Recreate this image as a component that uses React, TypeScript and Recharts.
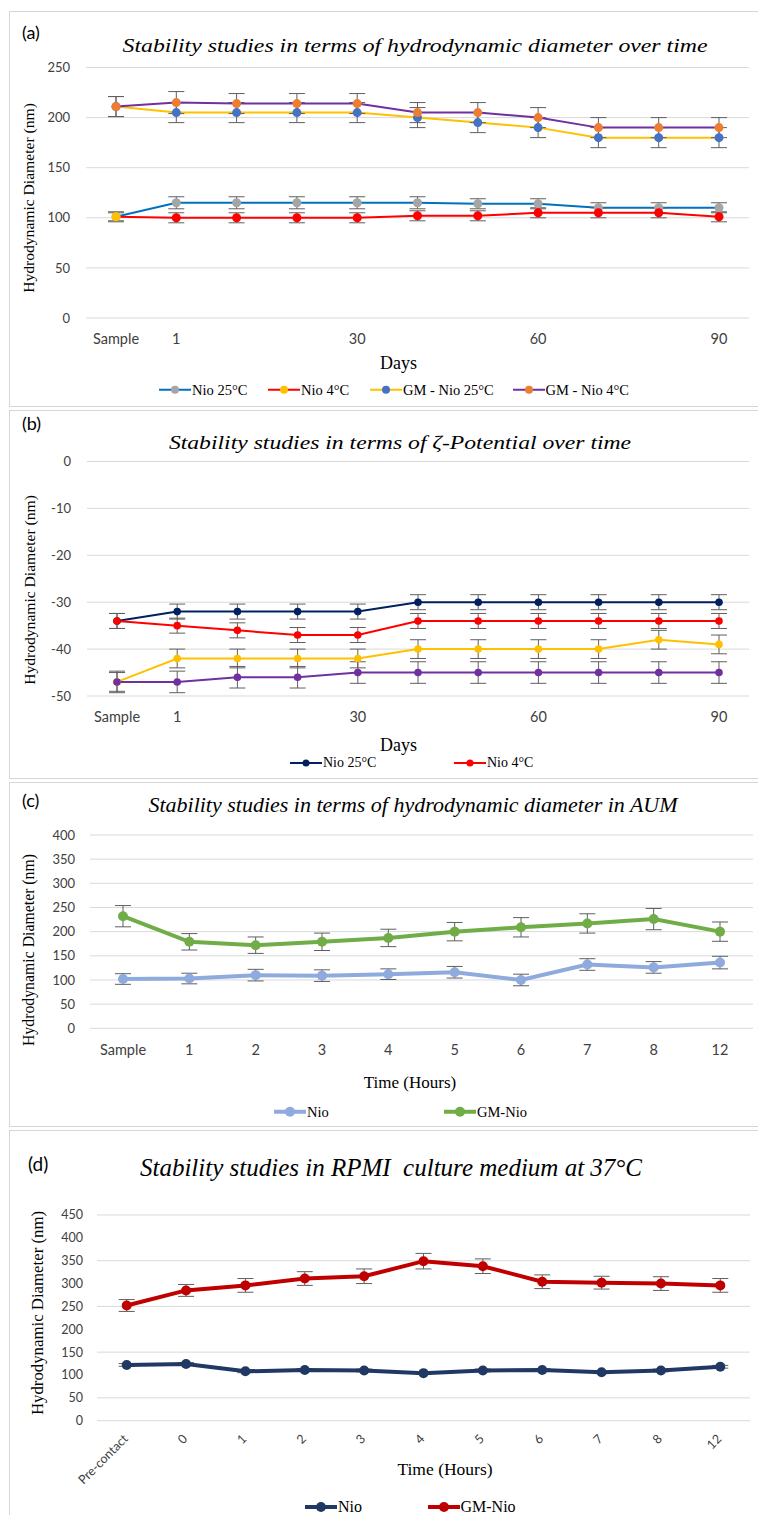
import React from 'react';
import { LineChart, Line, XAxis, YAxis, CartesianGrid, ErrorBar } from 'recharts';

// ---------- Data ----------
const daysLabels = ['Sample', '1', '', '', '30', '', '', '60', '', '', '90'];

const aNio25 = [101, 115, 115, 115, 115, 115, 114, 114, 110, 110, 110];
const aNio4 = [101, 100, 100, 100, 100, 102, 102, 105, 105, 105, 101];
const aGm25 = [211, 205, 205, 205, 205, 200, 195, 190, 180, 180, 180];
const aGm4 = [211, 215, 214, 214, 214, 205, 205, 200, 190, 190, 190];
const aErrNio25 = [5, 6, 6, 6, 6, 6, 5, 5, 5, 5, 5];
const aErrNio4 = [4, 5, 5, 5, 5, 5, 5, 5, 5, 5, 5];
const aErrGm25 = [10, 10, 10, 10, 10, 10, 10, 10, 10, 10, 10];
const aErrGm4 = [10, 11, 10, 10, 10, 10, 10, 10, 10, 10, 10];

const bNio25 = [-34, -32, -32, -32, -32, -30, -30, -30, -30, -30, -30];
const bNio4 = [-34, -35, -36, -37, -37, -34, -34, -34, -34, -34, -34];
const bGm25 = [-47, -42, -42, -42, -42, -40, -40, -40, -40, -38, -39];
const bGm4 = [-47, -47, -46, -46, -45, -45, -45, -45, -45, -45, -45];
const bErrNio25 = [1.6, 1.6, 1.6, 1.6, 1.6, 1.6, 1.6, 1.6, 1.6, 1.6, 1.6];
const bErrNio4 = [1.6, 1.6, 1.6, 1.6, 1.6, 1.6, 1.6, 1.6, 1.6, 1.6, 1.6];
const bErrGm25 = [2, 2, 2, 2, 2, 2, 2, 2, 2, 2, 2];
const bErrGm4 = [2.3, 2.3, 2.3, 2.3, 2.3, 2.3, 2.3, 2.3, 2.3, 2.3, 2.3];

const cLabels = ['Sample', '1', '2', '3', '4', '5', '6', '7', '8', '12'];
const cNio = [102, 103, 110, 109, 112, 116, 100, 132, 126, 136];
const cGm = [232, 179, 172, 179, 187, 200, 209, 217, 226, 200];
const cErrNio = [11, 11, 12, 12, 11, 12, 12, 12, 12, 13];
const cErrGm = [22, 17, 17, 18, 18, 19, 20, 20, 22, 20];

const dLabels = ['Pre-contact', '0', '1', '2', '3', '4', '5', '6', '7', '8', '12'];
const dNio = [122, 124, 108, 111, 110, 104, 110, 111, 106, 110, 118];
const dGm = [252, 285, 296, 311, 316, 349, 338, 304, 302, 300, 296];
const dErrNio = [3, 3, 3, 3, 3, 3, 3, 3, 3, 3, 3];
const dErrGm = [13, 13, 15, 15, 16, 17, 16, 15, 14, 15, 15];

const aTicks = [0, 50, 100, 150, 200, 250];
const bTicks = [-50, -40, -30, -20, -10, 0];
const cTicks = [0, 50, 100, 150, 200, 250, 300, 350, 400];
const dTicks = [0, 50, 100, 150, 200, 250, 300, 350, 400, 450];

// ---------- Rows ----------
const aRows = daysLabels.map((l, i) => ({
  idx: i, n25: aNio25[i], n4: aNio4[i], g25: aGm25[i], g4: aGm4[i],
  en25: aErrNio25[i], en4: aErrNio4[i], eg25: aErrGm25[i], eg4: aErrGm4[i],
}));
const bRows = daysLabels.map((l, i) => ({
  idx: i, n25: bNio25[i], n4: bNio4[i], g25: bGm25[i], g4: bGm4[i],
  en25: bErrNio25[i], en4: bErrNio4[i], eg25: bErrGm25[i], eg4: bErrGm4[i],
}));
const cRows = cLabels.map((l, i) => ({ idx: i, nio: cNio[i], gm: cGm[i], en: cErrNio[i], eg: cErrGm[i] }));
const dRows = dLabels.map((l, i) => ({ idx: i, nio: dNio[i], gm: dGm[i], en: dErrNio[i], eg: dErrGm[i] }));

// ---------- Styles ----------
const SANS = 'Lato, "Open Sans", "DejaVu Sans", sans-serif';
const SERIF = '"Liberation Serif", "Times New Roman", serif';
const GRID = '#D9D9D9';
const ERR = '#5F5F5F';
const TICK_FILL = '#404040';

const Txt = ({ x, y, size, children, italic, family, rotate, anchor, sx }: any) => (
  <div
    style={{
      position: 'absolute', left: x, top: y, fontSize: size, fontFamily: family || SERIF,
      fontStyle: italic ? 'italic' : 'normal', whiteSpace: 'pre', lineHeight: 1, color: '#000',
      transform: `translate(${anchor === 'start' ? '0' : '-50%'}, -50%)${rotate ? ` rotate(${rotate}deg)` : ''}${sx ? ` scaleX(${sx})` : ''}`,
    }}
  >
    {children}
  </div>
);

const Box = ({ top, height }: any) => (
  <div style={{ position: 'absolute', left: 9, top, width: 760, height, border: '1px solid #D6D6D6', boxSizing: 'border-box' }} />
);

const LegendItem = ({ x, y, line, marker, label, size, lw, r }: any) => (
  <div style={{ position: 'absolute', left: x, top: y, transform: 'translateY(-50%)', display: 'flex', alignItems: 'center', whiteSpace: 'nowrap' }}>
    <svg width={32} height={12} style={{ display: 'block' }}>
      <line x1={0} y1={6} x2={32} y2={6} stroke={line} strokeWidth={lw} />
      <circle cx={16} cy={6} r={r} fill={marker} />
    </svg>
    <span style={{ fontFamily: SERIF, fontSize: size, marginLeft: 1, lineHeight: 1 }}>{label}</span>
  </div>
);

const yTick = { fontSize: 13, fill: TICK_FILL, fontFamily: SANS };
const xTick = { fontSize: 14.5, fill: TICK_FILL, fontFamily: SANS };

const nio4Dot = (p: any) => (
  <circle key={`n4-${p.index}`} cx={p.cx} cy={p.cy} r={4.5} fill={p.index === 0 ? '#FFC000' : '#FF0000'} />
);

const RotTick = (p: any) => {
  const { x, y, payload } = p;
  return (
    <text
      transform={`translate(${x + 2},${y + 19}) rotate(-45)`}
      textAnchor="end"
      fontSize={12.5}
      fontFamily={SANS}
      fill={TICK_FILL}
    >
      {dLabels[payload.value]}
    </text>
  );
};

const PanelA = () => (
  <div style={{ position: 'absolute', left: 0, top: 0 }}>
    <LineChart width={758} height={405} data={aRows} margin={{ top: 67.5, right: 9, left: 36, bottom: 47 }}>
      <CartesianGrid vertical={false} stroke={GRID} strokeWidth={1} />
      <XAxis dataKey="idx" type="category" height={40} axisLine={false} tickLine={false} tickSize={0} tickMargin={16}
        tick={xTick} interval={0} padding={{ left: 30, right: 30 }} tickFormatter={(v: any) => daysLabels[v]} />
      <YAxis width={50} domain={[0, 250]} ticks={aTicks} axisLine={false} tickLine={false} tickSize={0} tickMargin={16} tick={yTick} />
      <Line dataKey="n25" stroke="#0070C0" strokeWidth={2} dot={{ r: 4.5, fill: '#A5A5A5', stroke: 'none' }} activeDot={false} isAnimationActive={false}>
        <ErrorBar dataKey="en25" width={8} stroke={ERR} strokeWidth={1} direction="y" />
      </Line>
      <Line dataKey="n4" stroke="#FF0000" strokeWidth={2} dot={nio4Dot} activeDot={false} isAnimationActive={false}>
        <ErrorBar dataKey="en4" width={8} stroke={ERR} strokeWidth={1} direction="y" />
      </Line>
      <Line dataKey="g25" stroke="#FFC000" strokeWidth={2} dot={{ r: 4.5, fill: '#4472C4', stroke: 'none' }} activeDot={false} isAnimationActive={false}>
        <ErrorBar dataKey="eg25" width={8} stroke={ERR} strokeWidth={1} direction="y" />
      </Line>
      <Line dataKey="g4" stroke="#7030A0" strokeWidth={2} dot={{ r: 4.5, fill: '#ED7D31', stroke: 'none' }} activeDot={false} isAnimationActive={false}>
        <ErrorBar dataKey="eg4" width={8} stroke={ERR} strokeWidth={1} direction="y" />
      </Line>
    </LineChart>
  </div>
);

const PanelB = () => (
  <div style={{ position: 'absolute', left: 0, top: 409 }}>
    <LineChart width={758} height={369} data={bRows} margin={{ top: 52.5, right: 9, left: 37, bottom: 42 }}>
      <CartesianGrid vertical={false} stroke={GRID} strokeWidth={1} />
      <XAxis dataKey="idx" type="category" height={40} axisLine={false} tickLine={false} tickSize={0} tickMargin={16}
        tick={xTick} interval={0} padding={{ left: 30, right: 30 }} tickFormatter={(v: any) => daysLabels[v]} />
      <YAxis width={50} domain={[-50, 0]} ticks={bTicks} axisLine={false} tickLine={false} tickSize={0} tickMargin={16} tick={yTick} />
      <Line dataKey="n25" stroke="#002060" strokeWidth={2} dot={{ r: 3.8, fill: '#002060', stroke: 'none' }} activeDot={false} isAnimationActive={false}>
        <ErrorBar dataKey="en25" width={8} stroke={ERR} strokeWidth={1} direction="y" />
      </Line>
      <Line dataKey="n4" stroke="#FF0000" strokeWidth={2} dot={{ r: 3.8, fill: '#FF0000', stroke: 'none' }} activeDot={false} isAnimationActive={false}>
        <ErrorBar dataKey="en4" width={8} stroke={ERR} strokeWidth={1} direction="y" />
      </Line>
      <Line dataKey="g25" stroke="#FFC000" strokeWidth={2} dot={{ r: 3.8, fill: '#FFC000', stroke: 'none' }} activeDot={false} isAnimationActive={false}>
        <ErrorBar dataKey="eg25" width={8} stroke={ERR} strokeWidth={1} direction="y" />
      </Line>
      <Line dataKey="g4" stroke="#7030A0" strokeWidth={2} dot={{ r: 3.8, fill: '#7030A0', stroke: 'none' }} activeDot={false} isAnimationActive={false}>
        <ErrorBar dataKey="eg4" width={8} stroke={ERR} strokeWidth={1} direction="y" />
      </Line>
    </LineChart>
  </div>
);

const PanelC = () => (
  <div style={{ position: 'absolute', left: 0, top: 781 }}>
    <LineChart width={758} height={345} data={cRows} margin={{ top: 54, right: 5, left: 40, bottom: 57.7 }}>
      <CartesianGrid vertical={false} stroke={GRID} strokeWidth={1} />
      <XAxis dataKey="idx" type="category" height={40} axisLine={false} tickLine={false} tickSize={0} tickMargin={16}
        tick={xTick} interval={0} padding={{ left: 33, right: 33 }} tickFormatter={(v: any) => cLabels[v]} />
      <YAxis width={50} domain={[0, 400]} ticks={cTicks} axisLine={false} tickLine={false} tickSize={0} tickMargin={15} tick={yTick} />
      <Line dataKey="nio" stroke="#8FAADC" strokeWidth={4} dot={{ r: 5, fill: '#8FAADC', stroke: 'none' }} activeDot={false} isAnimationActive={false}>
        <ErrorBar dataKey="en" width={8} stroke={ERR} strokeWidth={1} direction="y" />
      </Line>
      <Line dataKey="gm" stroke="#70AD47" strokeWidth={4} dot={{ r: 5, fill: '#70AD47', stroke: 'none' }} activeDot={false} isAnimationActive={false}>
        <ErrorBar dataKey="eg" width={8} stroke={ERR} strokeWidth={1} direction="y" />
      </Line>
    </LineChart>
  </div>
);

const PanelD = () => (
  <div style={{ position: 'absolute', left: 0, top: 1129 }}>
    <LineChart width={758} height={386} data={dRows} margin={{ top: 86, right: 8, left: 47, bottom: 54.3 }}>
      <CartesianGrid vertical={false} stroke={GRID} strokeWidth={1} />
      <XAxis dataKey="idx" type="category" height={40} axisLine={false} tickLine={false} tickSize={0} tickMargin={0}
        tick={<RotTick />} interval={0} padding={{ left: 29.7, right: 29.7 }} />
      <YAxis width={50} domain={[0, 450]} ticks={dTicks} axisLine={false} tickLine={false} tickSize={0} tickMargin={14}
        tick={{ fontSize: 12.5, fill: TICK_FILL, fontFamily: SANS }} />
      <Line dataKey="nio" stroke="#203864" strokeWidth={4} dot={{ r: 5, fill: '#203864', stroke: 'none' }} activeDot={false} isAnimationActive={false}>
        <ErrorBar dataKey="en" width={8} stroke={ERR} strokeWidth={1} direction="y" />
      </Line>
      <Line dataKey="gm" stroke="#C00000" strokeWidth={4} dot={{ r: 5, fill: '#C00000', stroke: 'none' }} activeDot={false} isAnimationActive={false}>
        <ErrorBar dataKey="eg" width={8} stroke={ERR} strokeWidth={1} direction="y" />
      </Line>
    </LineChart>
  </div>
);

export default function App() {
  return (
    <div style={{ position: 'absolute', left: 0, top: 0, width: 758, height: 1515, background: '#fff', overflow: 'hidden' }}>
      <Box top={11} height={396} />
      <Box top={410} height={369} />
      <Box top={782} height={345} />
      <Box top={1130} height={400} />

      <PanelA />
      <PanelB />
      <PanelC />
      <PanelD />

      {/* Panel (a) text */}
      <Txt x={22} y={32} size={18} family={SANS} anchor="start">(a)</Txt>
      <Txt x={415} y={45} size={19} italic sx={1.25}>Stability studies in terms of hydrodynamic diameter over time</Txt>
      <Txt x={29} y={198} size={15.6} rotate={-90}>Hydrodynamic Diameter (nm)</Txt>
      <Txt x={398.5} y={362.5} size={18}>Days</Txt>
      <LegendItem x={159} y={390} line="#0070C0" marker="#A5A5A5" label="Nio 25°C" size={14.5} lw={2} r={4} />
      <LegendItem x={268} y={390} line="#FF0000" marker="#FFC000" label="Nio 4°C" size={14.5} lw={2} r={4} />
      <LegendItem x={370} y={390} line="#FFC000" marker="#4472C4" label="GM - Nio 25°C" size={14.5} lw={2} r={4} />
      <LegendItem x={512.5} y={390} line="#7030A0" marker="#ED7D31" label="GM - Nio 4°C" size={14.5} lw={2} r={4} />

      {/* Panel (b) text */}
      <Txt x={22} y={423} size={18} family={SANS} anchor="start">(b)</Txt>
      <Txt x={400} y={441.5} size={19} italic sx={1.245}>Stability studies in terms of ζ-Potential over time</Txt>
      <Txt x={30} y={590} size={15.6} rotate={-90}>Hydrodynamic Diameter (nm)</Txt>
      <Txt x={398.5} y={745} size={18}>Days</Txt>
      <LegendItem x={290} y={762.5} line="#002060" marker="#002060" label="Nio 25°C" size={14} lw={2} r={3.5} />
      <LegendItem x={454} y={762.5} line="#FF0000" marker="#FF0000" label="Nio 4°C" size={14} lw={2} r={3.5} />

      {/* Panel (c) text */}
      <Txt x={22} y={800} size={18} family={SANS} anchor="start">(c)</Txt>
      <Txt x={413} y={805} size={22} italic>Stability studies in terms of hydrodynamic diameter in AUM</Txt>
      <Txt x={29} y={950} size={15.8} rotate={-90}>Hydrodynamic Diameter (nm)</Txt>
      <Txt x={410} y={1081.5} size={17}>Time (Hours)</Txt>
      <LegendItem x={274} y={1112} line="#8FAADC" marker="#8FAADC" label="Nio" size={14.5} lw={4} r={5} />
      <LegendItem x={444} y={1112} line="#70AD47" marker="#70AD47" label="GM-Nio" size={14.5} lw={4} r={5} />

      {/* Panel (d) text */}
      <Txt x={28} y={1163} size={19} family={SANS} anchor="start">(d)</Txt>
      <Txt x={391} y={1167} size={25} italic>Stability studies in RPMI  culture medium at 37°C</Txt>
      <Txt x={38} y={1313} size={16.8} rotate={-90}>Hydrodynamic Diameter (nm)</Txt>
      <Txt x={445} y={1470} size={17.5}>Time (Hours)</Txt>
      <LegendItem x={305} y={1507} line="#203864" marker="#203864" label="Nio" size={16} lw={4} r={5} />
      <LegendItem x={427.5} y={1507} line="#C00000" marker="#C00000" label="GM-Nio" size={16} lw={4} r={5} />
    </div>
  );
}
